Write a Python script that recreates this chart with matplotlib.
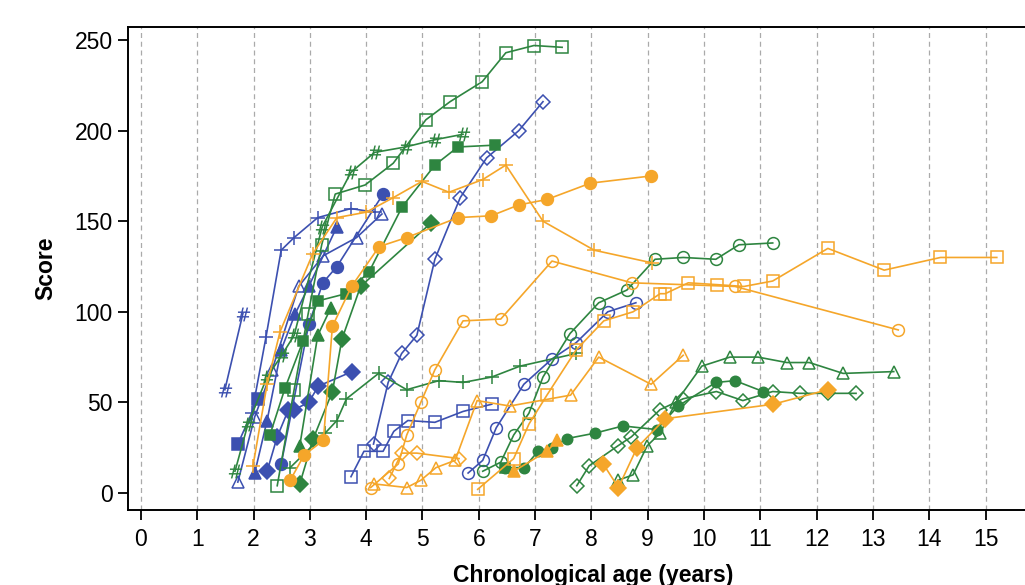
import matplotlib.pyplot as plt

plt.rcParams['font.family'] = ['Liberation Sans', 'DejaVu Sans']

BLUE = "#3C50B0"
GREEN = "#2E8540"
ORANGE = "#F5A62A"

# ---- blue subjects ----
b_hash_age = [1.49, 1.81]
b_hash_score = [57, 99]

b_plus_age = [1.97, 2.22, 2.49, 2.72, 3.14, 3.73, 4.15]
b_plus_score = [44, 86, 134, 141, 152, 157, 155]

b_otri_age = [1.72, 2.02, 2.33, 2.8, 3.24, 3.83, 4.28]
b_otri_score = [6, 42, 68, 114, 131, 141, 154]

b_ftri_age = [2.02, 2.24, 2.49, 2.74, 2.98, 3.48]
b_ftri_score = [11, 40, 79, 99, 114, 147]

b_fsq_age = [1.72, 2.08]
b_fsq_score = [27, 52]

b_fcirc_age = [2.49, 2.98, 3.23, 3.48, 4.3]
b_fcirc_score = [16, 93, 116, 125, 165]

b_fdia_age = [2.24, 2.42, 2.62, 2.72, 2.98, 3.15, 3.75]
b_fdia_score = [12, 31, 46, 46, 50, 59, 67]

b_odia_age = [4.13, 4.39, 4.63, 4.9, 5.22, 5.67, 6.14, 6.71, 7.14]
b_odia_score = [27, 61, 77, 87, 129, 163, 185, 200, 216]

b_osq_age = [3.73, 3.96, 4.3, 4.49, 4.74, 5.22, 5.72, 6.23]
b_osq_score = [9, 23, 23, 34, 40, 39, 45, 49]

b_ocirc_age = [5.81, 6.07, 6.31, 6.8, 7.3, 7.73, 8.29, 8.79]
b_ocirc_score = [11, 18, 36, 60, 74, 83, 100, 105]

# ---- green subjects ----
g_hash_age = [1.67, 1.9, 2.24, 2.5, 2.72, 3.22, 3.73, 4.15, 4.7, 5.22, 5.72]
g_hash_score = [12, 38, 64, 76, 87, 147, 177, 188, 191, 195, 198]

g_osq_age = [2.42, 2.72, 2.97, 3.21, 3.45, 3.98, 4.48, 5.06, 5.49, 6.06, 6.48, 6.98, 7.48]
g_osq_score = [4, 57, 99, 137, 165, 170, 182, 206, 216, 227, 243, 247, 246]

g_fsq_age = [2.29, 2.56, 2.88, 3.14, 3.64, 4.05, 4.64, 5.22, 5.63, 6.29]
g_fsq_score = [32, 58, 84, 106, 110, 122, 158, 181, 191, 192]

g_ftri_age = [2.82, 3.14, 3.37]
g_ftri_score = [26, 87, 102]

g_fdia_age = [2.82, 3.06, 3.4, 3.57, 3.9, 5.15]
g_fdia_score = [5, 30, 56, 85, 114, 149]

g_plus_age = [2.65, 3.27, 3.48, 3.65, 4.22, 4.72, 5.29, 5.72, 6.23, 6.73, 7.73]
g_plus_score = [14, 33, 40, 52, 66, 57, 62, 61, 64, 70, 77]

g_ocirc_age = [6.07, 6.39, 6.62, 6.89, 7.14, 7.62, 8.13, 8.63, 9.13, 9.63, 10.21, 10.62, 11.22]
g_ocirc_score = [12, 17, 32, 44, 64, 88, 105, 112, 129, 130, 129, 137, 138]

g_fsq1_age = [6.47]
g_fsq1_score = [14]

g_fcirc_age = [6.47, 6.81, 7.05, 7.3, 7.56, 8.06, 8.56, 9.16, 9.54, 10.21, 10.55, 11.05]
g_fcirc_score = [14, 14, 23, 25, 30, 33, 37, 35, 48, 61, 62, 56]

g_odia_age = [7.74, 7.96, 8.47, 8.71, 9.22, 9.63, 10.22, 10.69, 11.22, 11.7, 12.2, 12.7]
g_odia_score = [4, 15, 26, 31, 46, 52, 56, 51, 56, 55, 55, 55]

g_otri_age = [8.47, 8.74, 8.99, 9.22, 9.5, 9.96, 10.46, 10.96, 11.47, 11.87, 12.47, 13.37]
g_otri_score = [7, 10, 26, 33, 50, 70, 75, 75, 72, 72, 66, 67]

# ---- orange subjects ----
o_plus_age = [1.99, 2.24, 2.47, 3.05, 3.48, 4.0, 4.48, 4.99, 5.47, 6.07, 6.48, 7.14, 8.05, 9.08]
o_plus_score = [15, 60, 89, 132, 152, 155, 163, 172, 166, 173, 181, 150, 134, 127]

o_fcirc_age = [2.65, 2.9, 3.24, 3.4, 3.74, 4.23, 4.72, 5.63, 6.22, 6.71, 7.21, 7.98, 9.06]
o_fcirc_score = [7, 21, 29, 92, 114, 136, 141, 152, 153, 159, 162, 171, 175]

o_ocirc_age = [4.08, 4.57, 4.72, 4.97, 5.22, 5.72, 6.39, 7.3, 8.72, 10.55, 13.45]
o_ocirc_score = [3, 16, 32, 50, 68, 95, 96, 128, 116, 114, 90]

o_osq_age = [5.98, 6.62, 6.89, 7.21, 7.73, 8.22, 8.74, 9.22, 9.31, 9.72, 10.23, 10.71, 11.22,
             12.2, 13.2, 14.2, 15.2]
o_osq_score = [2, 19, 38, 54, 79, 95, 100, 110, 110, 116, 115, 114, 117, 135, 123, 130, 130]

o_odia_age = [4.41, 4.63, 4.9, 5.65]
o_odia_score = [8, 22, 22, 19]

o_otri_age = [4.14, 4.72, 4.97, 5.24, 5.58, 5.97, 6.55, 7.63, 8.13, 9.06, 9.63]
o_otri_score = [5, 3, 7, 14, 18, 51, 48, 54, 75, 60, 76]

o_ftri_age = [6.62, 7.21, 7.39]
o_ftri_score = [12, 23, 29]

o_fdia_age = [8.21, 8.48, 8.81, 9.31, 11.23, 12.2]
o_fdia_score = [16, 3, 25, 41, 49, 57]

HASH = r'$\#$'

# (ages, scores, color, marker, filled, markersize)
series = [
    (b_hash_age, b_hash_score, BLUE, HASH, True, 10),
    (b_plus_age, b_plus_score, BLUE, '+', False, 10),
    (b_otri_age, b_otri_score, BLUE, '^', False, 9),
    (b_ftri_age, b_ftri_score, BLUE, '^', True, 9),
    (b_fsq_age, b_fsq_score, BLUE, 's', True, 8),
    (b_fcirc_age, b_fcirc_score, BLUE, 'o', True, 8.5),
    (b_fdia_age, b_fdia_score, BLUE, 'D', True, 8),
    (b_odia_age, b_odia_score, BLUE, 'D', False, 7),
    (b_osq_age, b_osq_score, BLUE, 's', False, 8),
    (b_ocirc_age, b_ocirc_score, BLUE, 'o', False, 8.5),
    (g_hash_age, g_hash_score, GREEN, HASH, True, 10),
    (g_osq_age, g_osq_score, GREEN, 's', False, 8),
    (g_fsq_age, g_fsq_score, GREEN, 's', True, 7),
    (g_ftri_age, g_ftri_score, GREEN, '^', True, 9),
    (g_fdia_age, g_fdia_score, GREEN, 'D', True, 8),
    (g_plus_age, g_plus_score, GREEN, '+', False, 10),
    (g_ocirc_age, g_ocirc_score, GREEN, 'o', False, 8.5),
    (g_fsq1_age, g_fsq1_score, GREEN, 's', True, 7),
    (g_fcirc_age, g_fcirc_score, GREEN, 'o', True, 7.5),
    (g_odia_age, g_odia_score, GREEN, 'D', False, 7),
    (g_otri_age, g_otri_score, GREEN, '^', False, 9),
    (o_plus_age, o_plus_score, ORANGE, '+', False, 10),
    (o_fcirc_age, o_fcirc_score, ORANGE, 'o', True, 8.5),
    (o_ocirc_age, o_ocirc_score, ORANGE, 'o', False, 8.5),
    (o_osq_age, o_osq_score, ORANGE, 's', False, 8),
    (o_odia_age, o_odia_score, ORANGE, 'D', False, 7),
    (o_otri_age, o_otri_score, ORANGE, '^', False, 9),
    (o_ftri_age, o_ftri_score, ORANGE, '^', True, 9),
    (o_fdia_age, o_fdia_score, ORANGE, 'D', True, 8),
]

fig = plt.figure(figsize=(10.25, 5.85), dpi=100)
# axes runs off the right edge of the figure, like the cropped original
ax = fig.add_axes([0.1249, 0.1282, 0.908, 0.8256])

for x in range(0, 17):
    ax.axvline(x, color='#AAAAAA', linestyle=(0, (4, 3)), linewidth=0.9, zorder=0)

for ages, scores, color, marker, filled, ms in series:
    thin_hash = marker == HASH
    ax.plot(ages, scores, color=color, linewidth=1.2, marker=marker, markersize=ms,
            markerfacecolor=color if filled else 'none', markeredgecolor=color,
            markeredgewidth=0.0 if thin_hash else 1.1, zorder=2)

ax.set_xlim(-0.23, 16.3)
ax.set_ylim(-9.4, 257.2)
ax.set_xticks(range(0, 16))
ax.set_yticks([0, 50, 100, 150, 200, 250])
ax.tick_params(axis='both', labelsize=16.5, length=7, width=1.3, direction='out')
ax.tick_params(axis='x', pad=6)
ax.tick_params(axis='y', pad=4)

ax.spines['right'].set_visible(False)
for side in ['left', 'bottom', 'top']:
    ax.spines[side].set_linewidth(1.4)

ax.set_ylabel('Score', fontsize=16.5, fontweight='bold', labelpad=12)
ax.set_xlabel('Chronological age (years)', fontsize=16.5, fontweight='bold', labelpad=9)

fig.savefig('out.png', dpi=100)
